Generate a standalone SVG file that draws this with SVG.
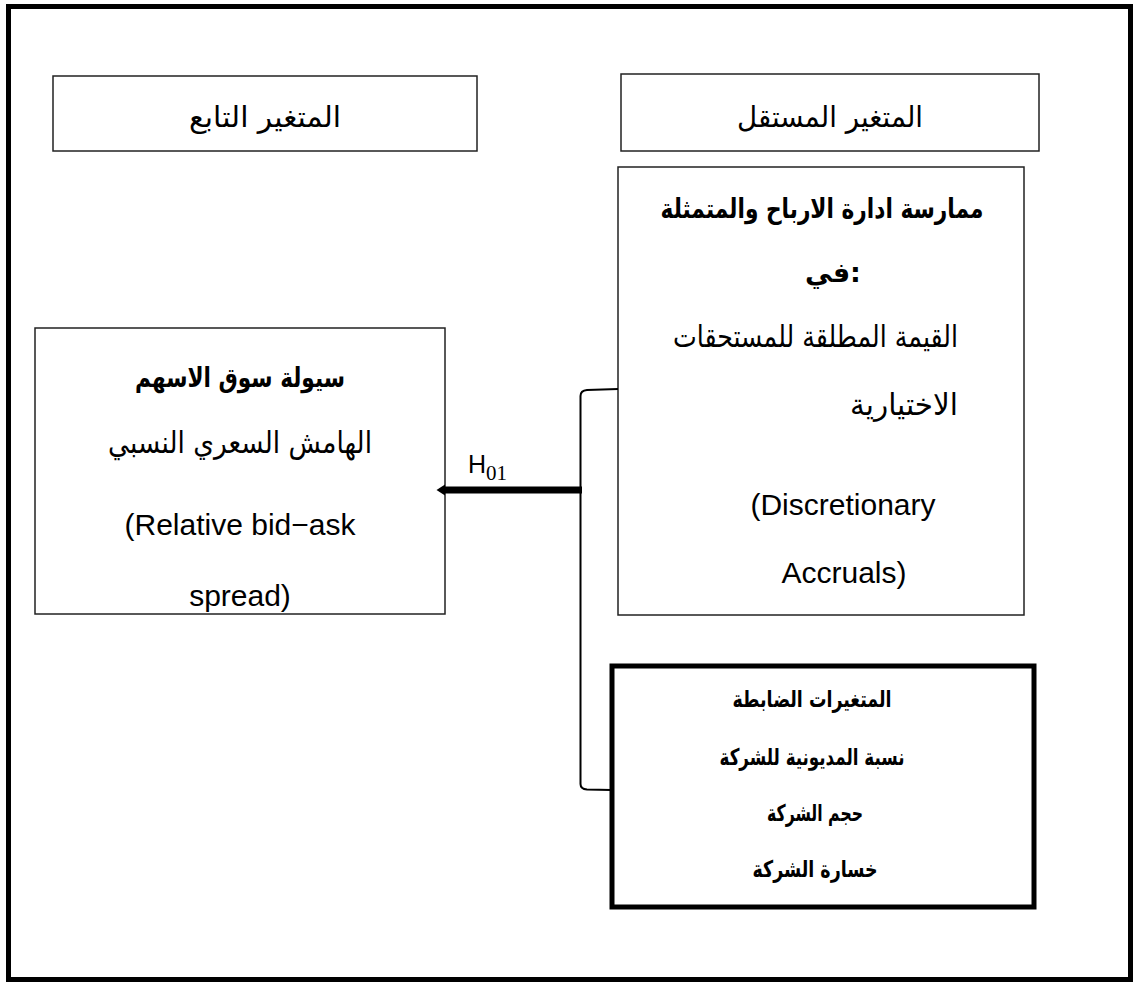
<svg xmlns="http://www.w3.org/2000/svg" width="1135" height="985" viewBox="0 0 1135 985">
<defs>
<style>
.box{fill:#fff;stroke:#222;stroke-width:1.5}
.thick{fill:#fff;stroke:#000;stroke-width:5}
.ar{font-family:"DejaVu Sans","Noto Sans",sans-serif;fill:#000}
.arb{font-family:"DejaVu Sans","Noto Sans",sans-serif;font-weight:bold;fill:#000}
.en{font-family:"Liberation Sans",Arial,sans-serif;fill:#000}
.c{text-anchor:middle}
.e{text-anchor:end}
</style>
<clipPath id="clipLeft"><rect x="35" y="328" width="410" height="286"/></clipPath>
</defs>
<rect x="0" y="0" width="1135" height="985" fill="#fff"/>
<rect id="frame" x="8.5" y="6.5" width="1122" height="973" fill="none" stroke="#000" stroke-width="5"/>

<g id="node-dependent-label">
<rect class="box" x="53" y="76" width="424" height="75"/>
<text class="ar c" x="265" y="127" font-size="29" textLength="152" lengthAdjust="spacingAndGlyphs">المتغير التابع</text>
</g>

<g id="node-independent-label">
<rect class="box" x="621" y="74" width="418" height="77"/>
<text class="ar c" x="830" y="127" font-size="29" textLength="186" lengthAdjust="spacingAndGlyphs">المتغير المستقل</text>
</g>

<g id="node-independent">
<rect class="box" x="618" y="167" width="406" height="448"/>
<text class="arb c" x="822" y="218" font-size="27" textLength="323" lengthAdjust="spacingAndGlyphs">ممارسة ادارة الارباح والمتمثلة</text>
<text class="arb c" x="833" y="282" font-size="27">في:</text>
<text class="ar e" x="958" y="347" font-size="30" textLength="285" lengthAdjust="spacingAndGlyphs">القيمة المطلقة للمستحقات</text>
<text class="ar e" x="958" y="415" font-size="30" textLength="108" lengthAdjust="spacingAndGlyphs">الاختيارية</text>
<text class="en c" x="843" y="515" font-size="30">(Discretionary</text>
<text class="en c" x="844" y="583" font-size="30">Accruals)</text>
</g>

<g id="node-dependent">
<rect class="box" x="35" y="328" width="410" height="286"/>
<g clip-path="url(#clipLeft)">
<text class="arb c" x="240" y="387" font-size="27" textLength="210" lengthAdjust="spacingAndGlyphs">سيولة سوق الاسهم</text>
<text class="ar c" x="240" y="453" font-size="30" textLength="264" lengthAdjust="spacingAndGlyphs">الهامش السعري النسبي</text>
<text class="en c" x="240" y="535" font-size="30">(Relative bid−ask</text>
<text class="en c" x="240" y="606" font-size="30">spread)</text>
</g>
</g>

<g id="node-controls">
<rect class="thick" x="612" y="666" width="422" height="241"/>
<text class="arb c" x="812" y="707" font-size="23" textLength="159" lengthAdjust="spacingAndGlyphs">المتغيرات الضابطة</text>
<text class="arb c" x="812" y="765" font-size="23" textLength="185" lengthAdjust="spacingAndGlyphs">نسبة المديونية للشركة</text>
<text class="arb c" x="815" y="821" font-size="23" textLength="96" lengthAdjust="spacingAndGlyphs">حجم الشركة</text>
<text class="arb c" x="815" y="877" font-size="23" textLength="125" lengthAdjust="spacingAndGlyphs">خسارة الشركة</text>
</g>

<g id="connectors">
<path d="M618 389 L587 390 Q580.5 390.5 580.5 396 L580.5 784 Q580.5 789 587 789.5 L611 790" fill="none" stroke="#000" stroke-width="2"/>
<line x1="443" y1="490" x2="582" y2="490" stroke="#000" stroke-width="7"/>
<path d="M445 484.5 L436.5 490 L445 495.5 Z" fill="#000"/>
<text x="468" y="473" font-family="Liberation Sans,Arial,sans-serif" font-size="25" fill="#000">H<tspan font-family="Liberation Serif,Times New Roman,serif" font-size="21" dy="7">01</tspan></text>
</g>
</svg>
